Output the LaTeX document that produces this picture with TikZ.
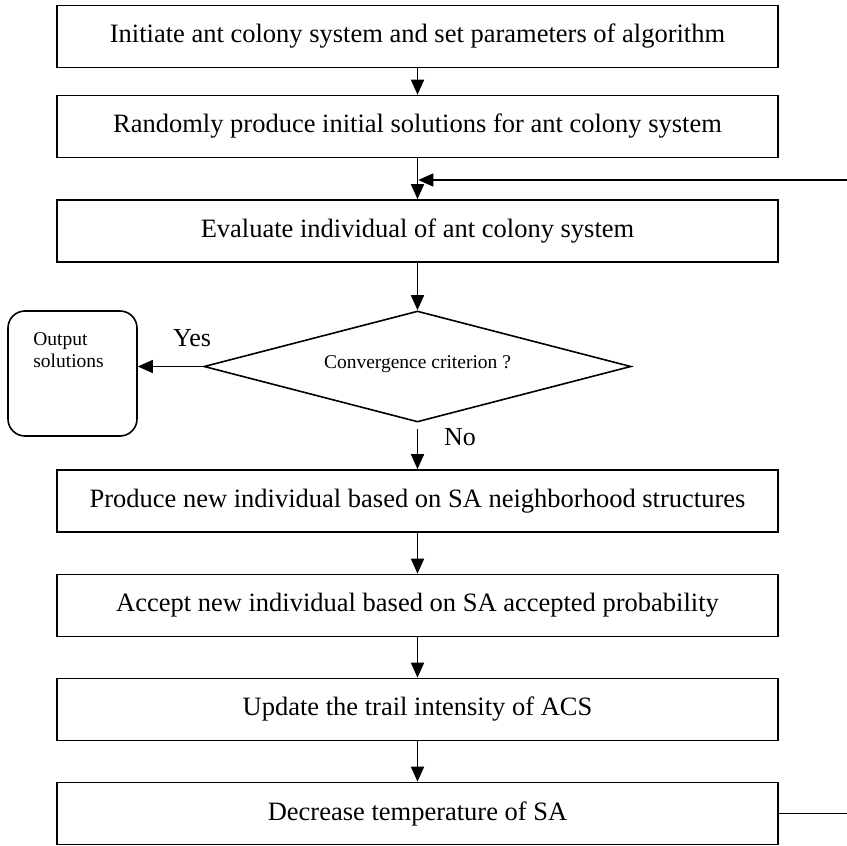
\documentclass[tikz,border=0pt]{standalone}
\usepackage{fontspec}
\setmainfont{Liberation Serif}
\usetikzlibrary{shapes.geometric,arrows.meta}
\begin{document}
\begin{tikzpicture}[x=1pt,y=-1pt,
  stepbox/.style={draw, line width=1.6pt, minimum width=721pt, minimum height=62pt,
    inner sep=0pt, font=\fontsize{26.5}{30}\selectfont},
  decision/.style={draw, diamond, aspect=3.85, line width=1.6pt, minimum width=427pt,
    minimum height=111pt, inner sep=0pt, font=\fontsize{19.5}{22}\selectfont},
  endbox/.style={draw, rounded corners=17pt, line width=1.6pt,
    minimum width=129pt, minimum height=125pt, inner sep=0pt},
  smalltext/.style={font=\fontsize{19.5}{22}\selectfont, inner sep=0pt},
  answer/.style={font=\fontsize{26}{30}\selectfont, inner sep=0pt},
  flow/.style={line width=1.6pt, -{Triangle[length=15pt,width=13pt]}},
  plain/.style={line width=1.6pt}]
\useasboundingbox (0,0) rectangle (847,846);

% main column of process steps
\node[stepbox] (init) at (417.5,36.5) {Initiate ant colony system and set parameters of algorithm};
\node[stepbox] (rand) at (417.5,126.5) {Randomly produce initial solutions for ant colony system};
\node[stepbox] (eval) at (417.5,231) {Evaluate individual of ant colony system};
\node[decision] (conv) at (417.5,366.5) {\raisebox{8pt}{Convergence criterion ?}};
\node[stepbox] (prod) at (417.5,501) {Produce new individual based on SA neighborhood structures};
\node[stepbox] (acc)  at (417.5,605.5) {Accept new individual based on SA accepted probability};
\node[stepbox] (upd)  at (417.5,709.5) {Update the trail intensity of ACS};
\node[stepbox] (dec)  at (417.5,813.5) {Decrease temperature of SA};

% terminal box for the converged case
\node[endbox,
  label={[smalltext, align=left, anchor=north west, xshift=26pt, yshift=-22pt]north west:Output\\solutions}]
  (out) at (72.5,373.5) {};

% branch labels
\node[answer] (yes) at (192,338) {Yes};
\node[answer] (no) at (460,437) {No};

% loop-back entry point between the second and third steps
\coordinate (join) at (418.3,180);

% connectors
\draw[flow] (init) -- (rand);
\draw[flow] (rand) -- (eval);
\draw[flow] (eval) -- (conv);
\draw[flow] (conv.west) -- (conv.west -| out.east);
\draw[flow] ([yshift=-6pt]conv.south) -- (prod.north);
\draw[flow] (prod) -- (acc);
\draw[flow] (acc) -- (upd);
\draw[flow] (upd) -- (dec);
\draw[flow] (dec.east) -- ++(100,0) |- (join);
\end{tikzpicture}
\end{document}
